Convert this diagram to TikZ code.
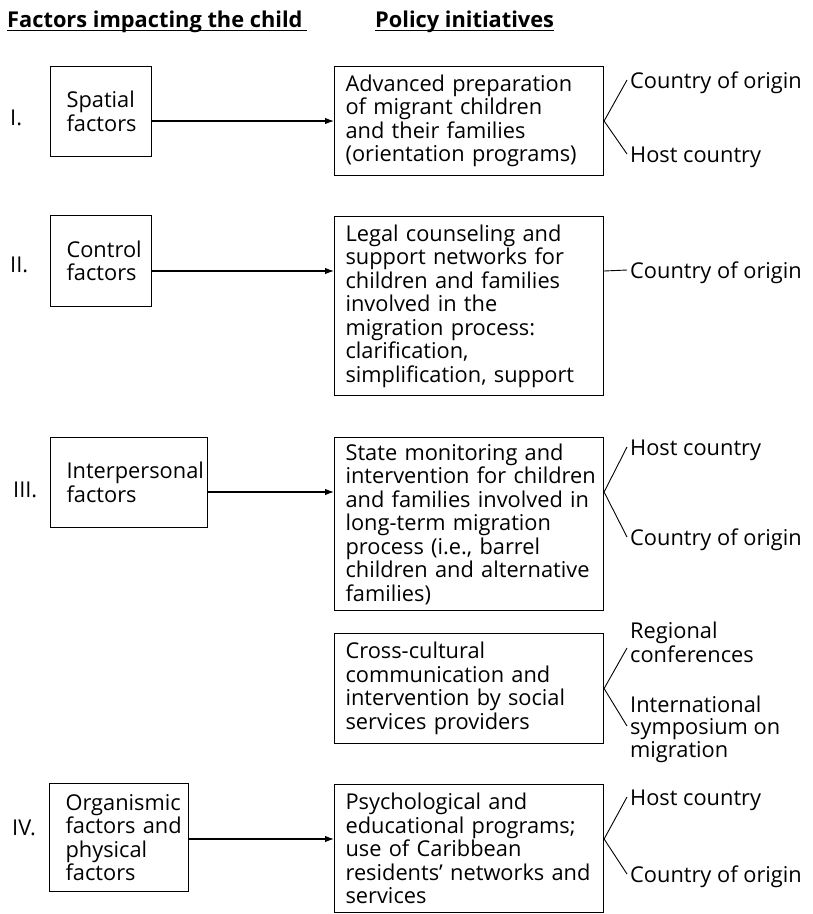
\documentclass[tikz,border=0pt]{standalone}
\usepackage{fontspec}
\setmainfont{Open Sans}
\usetikzlibrary{arrows.meta}
\begin{document}
\begin{tikzpicture}[x=1pt,y=-1pt,
  every node/.style={font=\fontsize{21.8pt}{23.5pt}\selectfont},
  boxline/.style={line width=1.1pt},
  lbox/.style={draw, boxline, inner xsep=16pt, inner ysep=0pt, align=left, anchor=north west},
  pbox/.style={draw, boxline, inner xsep=11pt, inner ysep=0pt, text width=247pt, minimum width=269pt, align=left, anchor=north west},
  lab/.style={inner xsep=3pt, inner ysep=0pt, text height=16pt, text depth=0pt, anchor=base west},
  numeral/.style={inner sep=0pt, anchor=base west},
  head/.style={inner sep=0pt, anchor=base west, font=\fontsize{21.8pt}{23.5pt}\selectfont\bfseries},
  arr/.style={line width=1.1pt, -{Latex[length=9pt,width=6.5pt]}},
  branch/.style={line width=0.9pt}
]
\useasboundingbox (0,0) rectangle (813,914);

% headers
\node[head] (h1) at (7,27) {Factors impacting the child};
\node[head] (h2) at (375,27) {Policy initiatives};
\draw[line width=1.3pt] ([yshift=-3.5pt]h1.base west) -- ([yshift=-3.5pt,xshift=4pt]h1.base east);
\draw[line width=1.3pt] ([yshift=-3.5pt]h2.base west) -- ([yshift=-3.5pt]h2.base east);

% arrow levels
\coordinate (a1) at (0,121);
\coordinate (a2) at (0,271);
\coordinate (a3) at (0,492);
\coordinate (a4) at (0,839);

% numerals
\node[numeral] (n1) at (10,125) {I.};
\node[numeral] (n2) at (10,272) {II.};
\node[numeral] (n3) at (13,497) {III.};
\node[numeral] (n4) at (12,835) {IV.};

% left boxes
\node[lbox, text width=69pt, minimum width=101pt, minimum height=90pt] (l1) at (50,66)
  {\mbox{Spatial}\\\mbox{factors}};
\node[lbox, text width=69pt, minimum width=101pt, minimum height=91pt] (l2) at (50,215)
  {\mbox{Control}\\\mbox{factors}};
\node[lbox, text width=125pt, minimum width=157pt, minimum height=90pt] (l3) at (50,437)
  {\mbox{Interpersonal}\\\mbox{factors}};
\node[lbox, text width=107pt, minimum width=139pt, minimum height=108pt] (l4) at (49,783)
  {\mbox{Organismic}\\\mbox{factors and}\\\mbox{physical}\\\mbox{factors}};

% policy boxes
\node[pbox, minimum height=109pt] (p1) at (334,66)
  {\mbox{Advanced preparation}\\\mbox{of migrant children}\\\mbox{and their families}\\\mbox{(orientation programs)}};
\node[pbox, minimum height=179pt] (p2) at (334,216)
  {\mbox{Legal counseling and}\\\mbox{support networks for}\\\mbox{children and families}\\\mbox{involved in the}\\\mbox{migration process:}\\\mbox{clarification,}\\\mbox{simplification, support}};
\node[pbox, minimum height=173pt] (p3) at (334,437)
  {\mbox{State monitoring and}\\\mbox{intervention for children}\\\mbox{and families involved in}\\\mbox{long-term migration}\\\mbox{process (i.e., barrel}\\\mbox{children and alternative}\\\mbox{families)}};
\node[pbox, minimum height=110pt] (p4) at (334,633)
  {\mbox{Cross-cultural}\\\mbox{communication and}\\\mbox{intervention by social}\\\mbox{services providers}};
\node[pbox, minimum height=128pt] (p5) at (334,784)
  {\mbox{Psychological and}\\\mbox{educational programs;}\\\mbox{use of Caribbean}\\\mbox{residents’ networks and}\\\mbox{services}};

% arrows
\draw[arr] (l1.east |- a1) -- (p1.west |- a1);
\draw[arr] (l2.east |- a2) -- (p2.west |- a2);
\draw[arr] (l3.east |- a3) -- (p3.west |- a3);
\draw[arr] (l4.east |- a4) -- (p5.west |- a4);

% right labels
\node[lab] (c1a) at (627,88) {Country of origin};
\node[lab] (c1b) at (627,162) {Host country};
\node[lab] (c2a) at (627,278) {Country of origin};
\node[lab] (c3a) at (627,455) {Host country};
\node[lab] (c3b) at (627,545) {Country of origin};
\node[lab] (c4a) at (627,638) {Regional};
\node[lab] (c4b) at (627,662) {conferences};
\node[lab] (c4c) at (627,712) {International};
\node[lab] (c4d) at (627,734) {symposium on};
\node[lab] (c4e) at (627,757) {migration};
\node[lab] (c5a) at (627,805) {Host country};
\node[lab] (c5b) at (627,882) {Country of origin};

% branches
\draw[branch] (c1a.west) -- (p1.east |- a1) -- (c1b.west);
\draw[branch] (p2.east |- a2) -- (c2a.west);
\draw[branch] (c3a.west) -- (p3.east |- a3) -- (c3b.west);
\draw[branch] ([yshift=6pt]c4b.west) -- (p4.east) -- (c4d.west);
\draw[branch] (c5a.west) -- (p5.east |- a4) -- (c5b.west);
\end{tikzpicture}
\end{document}
